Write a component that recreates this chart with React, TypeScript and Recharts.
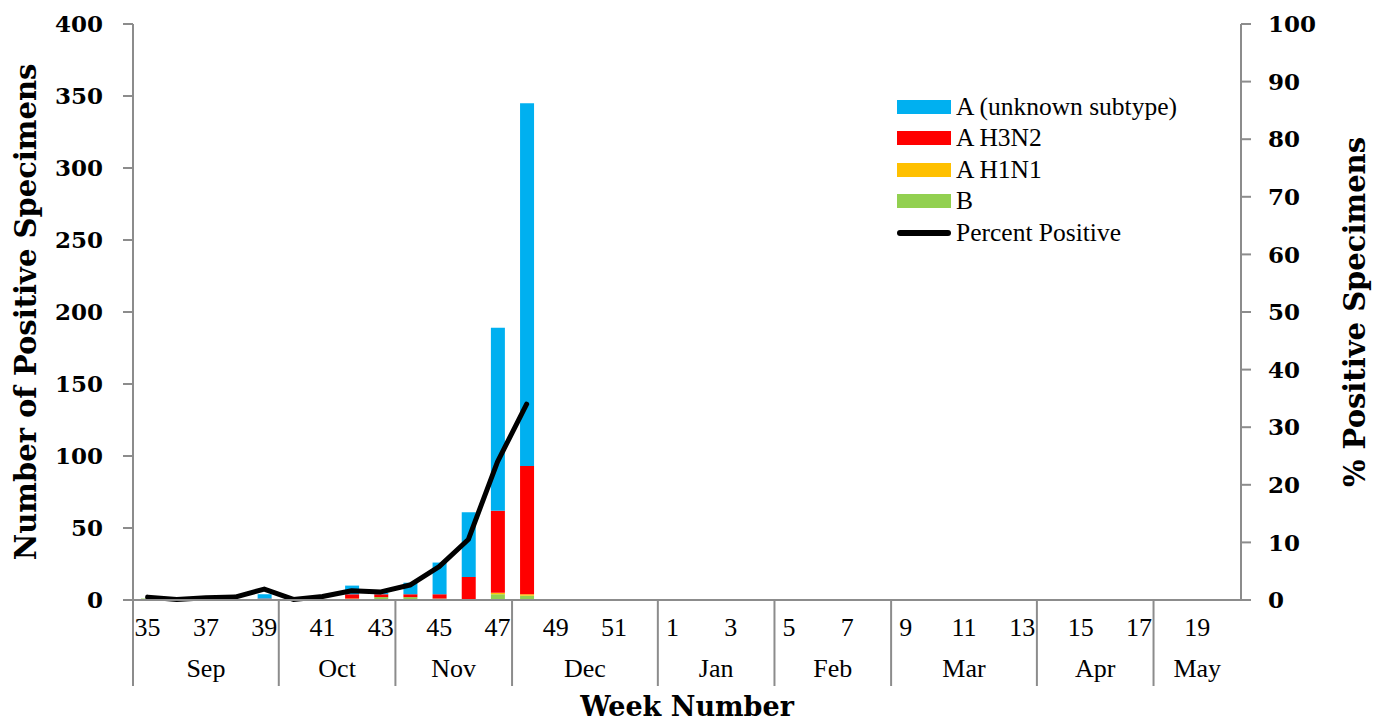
import { ComposedChart, Bar, Line, XAxis, YAxis, Legend } from "recharts";

// surveillance weeks, Sep -> May
const weeks = [
  35, 36, 37, 38, 39, 40, 41, 42, 43, 44, 45, 46, 47, 48, 49, 50, 51, 52,
  1, 2, 3, 4, 5, 6, 7, 8, 9, 10, 11, 12, 13, 14, 15, 16, 17, 18, 19, 20,
];
const monthNames = ["Sep", "Oct", "Nov", "Dec", "Jan", "Feb", "Mar", "Apr", "May"];
const monthWeekCounts = [5, 4, 4, 5, 4, 4, 5, 4, 3];

// reported so far (weeks 35-48), later weeks have no data yet
const fluB = [1, 0, 0, 0, 0, 0, 0, 0, 2, 2, 1, 0, 4, 3];
const fluH1N1 = [0, 0, 0, 0, 0, 0, 0, 1, 0, 0, 0, 0, 1, 1];
const fluH3N2 = [0, 0, 0, 0, 1, 0, 0, 3, 2, 2, 3, 16, 57, 89];
const fluUnknown = [0, 0, 0, 0, 3, 0, 0, 6, 1, 8, 22, 45, 127, 252];
const pctPositive = [0.5, 0.1, 0.4, 0.5, 1.9, 0.1, 0.6, 1.6, 1.4, 2.6, 5.8, 10.5, 24, 34];

const leftTicks = [0, 50, 100, 150, 200, 250, 300, 350, 400];
const rightTicks = [0, 10, 20, 30, 40, 50, 60, 70, 80, 90, 100];

const data = weeks.map((w, i) => ({
  week: w,
  b: fluB[i] ?? null,
  h1n1: fluH1N1[i] ?? null,
  h3n2: fluH3N2[i] ?? null,
  unknown: fluUnknown[i] ?? null,
  pct: pctPositive[i] ?? null,
}));

// index of first week of each month
const monthStarts: number[] = [];
monthWeekCounts.reduce((acc, n) => {
  monthStarts.push(acc);
  return acc + n;
}, 0);

const AXIS = "#8C8C8C";
const SERIF = "'Liberation Serif', serif";
const BOLD_SERIF = "'DejaVu Serif', serif";

const legendItems = [
  { name: "A (unknown subtype)", color: "#00B0F0", line: false },
  { name: "A H3N2", color: "#FF0000", line: false },
  { name: "A H1N1", color: "#FFC000", line: false },
  { name: "B", color: "#92D050", line: false },
  { name: "Percent Positive", color: "#000000", line: true },
];

function WeekTick(props: any) {
  const { x, y, payload } = props;
  const i = payload.index ?? props.index;
  const half = payload.offset || 14.58;
  return (
    <g>
      {monthStarts.includes(i) && (
        <line x1={x - half} x2={x - half} y1={y} y2={y + 86} stroke={AXIS} strokeWidth={2} />
      )}
      {i % 2 === 0 && (
        <text x={x} y={y + 36} textAnchor="middle" fontFamily={SERIF} fontSize={26} fill="#000">
          {payload.value}
        </text>
      )}
    </g>
  );
}

function MonthTick(props: any) {
  const { x, y, payload } = props;
  const i = payload.index ?? props.index;
  const half = payload.offset || 14.58;
  const m = monthStarts.indexOf(i);
  if (m < 0) return <g />;
  const cx = x + (monthWeekCounts[m] - 1) * half;
  return (
    <text x={cx} y={y + 29} textAnchor="middle" fontFamily={SERIF} fontSize={26} fill="#000">
      {monthNames[m]}
    </text>
  );
}

function renderLegend() {
  return (
    <div style={{ fontFamily: SERIF, fontSize: 25.5, color: "#000" }}>
      {legendItems.map((it) => (
        <div key={it.name} style={{ display: "flex", alignItems: "center", height: 31.5 }}>
          <span
            style={{
              display: "inline-block",
              width: 54,
              height: it.line ? 6 : 14,
              borderRadius: it.line ? 3 : 0,
              background: it.color,
              marginRight: 5,
            }}
          />
          <span style={{ whiteSpace: "nowrap" }}>{it.name}</span>
        </div>
      ))}
    </div>
  );
}

const yTick = { fill: "#000", fontFamily: BOLD_SERIF, fontSize: 23, fontWeight: "bold" as const };

function yTitle(text: string, dx: number) {
  return (p: any) => {
    const cx = p.viewBox.x + dx;
    const cy = p.viewBox.y + p.viewBox.height / 2;
    return (
      <text
        x={cx}
        y={cy}
        transform={`rotate(-90 ${cx} ${cy})`}
        textAnchor="middle"
        dominantBaseline="central"
        fontFamily={BOLD_SERIF}
        fontWeight="bold"
        fontSize={29}
        fill="#000"
      >
        {text}
      </text>
    );
  };
}

export default function App() {
  return (
    <div style={{ position: "absolute", left: 0, top: 0, background: "#fff" }}>
      <ComposedChart
        width={1380}
        height={722}
        data={data}
        margin={{ top: 24, right: 0, bottom: 0, left: 0 }}
      >
        <XAxis
          xAxisId="b_month"
          dataKey="week"
          interval={0}
          height={74}
          tickSize={0}
          tickMargin={0}
          tickLine={false}
          axisLine={false}
          tick={<MonthTick />}
          label={{
            content: (p: any) => (
              <text
                x={p.viewBox.x + p.viewBox.width / 2}
                y={p.viewBox.y + 68}
                textAnchor="middle"
                fontFamily={BOLD_SERIF}
                fontWeight="bold"
                fontSize={27}
                fill="#000"
              >
                Week Number
              </text>
            ),
          }}
        />
        <XAxis
          xAxisId="a_week"
          dataKey="week"
          interval={0}
          height={48}
          tickSize={0}
          tickMargin={0}
          tickLine={false}
          axisLine={{ stroke: AXIS, strokeWidth: 2 }}
          tick={<WeekTick />}
        />
        <YAxis
          yAxisId="left"
          domain={[0, 400]}
          ticks={leftTicks}
          width={133}
          tickSize={10}
          tickMargin={20}
          stroke={AXIS}
          axisLine={{ stroke: AXIS, strokeWidth: 2 }}
          tickLine={{ stroke: AXIS, strokeWidth: 2 }}
          tick={yTick}
          label={{ content: yTitle("Number of Positive Specimens", 26) }}
        />
        <YAxis
          yAxisId="right"
          orientation="right"
          domain={[0, 100]}
          ticks={rightTicks}
          width={139}
          tickSize={10}
          tickMargin={17}
          stroke={AXIS}
          axisLine={{ stroke: AXIS, strokeWidth: 2 }}
          tickLine={{ stroke: AXIS, strokeWidth: 2 }}
          tick={yTick}
          label={{ content: yTitle("% Positive Specimens", 114) }}
        />
        <Legend
          layout="vertical"
          align="center"
          verticalAlign="middle"
          content={renderLegend}
          wrapperStyle={{ left: 897, top: 91, width: 320 }}
        />
        <Bar xAxisId="a_week" yAxisId="left" dataKey="b" stackId="s" fill="#92D050" barSize={14} isAnimationActive={false} />
        <Bar xAxisId="a_week" yAxisId="left" dataKey="h1n1" stackId="s" fill="#FFC000" barSize={14} isAnimationActive={false} />
        <Bar xAxisId="a_week" yAxisId="left" dataKey="h3n2" stackId="s" fill="#FF0000" barSize={14} isAnimationActive={false} />
        <Bar xAxisId="a_week" yAxisId="left" dataKey="unknown" stackId="s" fill="#00B0F0" barSize={14} isAnimationActive={false} />
        <Line
          xAxisId="a_week"
          yAxisId="right"
          type="linear"
          dataKey="pct"
          stroke="#000"
          strokeWidth={5}
          strokeLinejoin="round"
          strokeLinecap="round"
          dot={false}
          activeDot={false}
          isAnimationActive={false}
        />
      </ComposedChart>
    </div>
  );
}
